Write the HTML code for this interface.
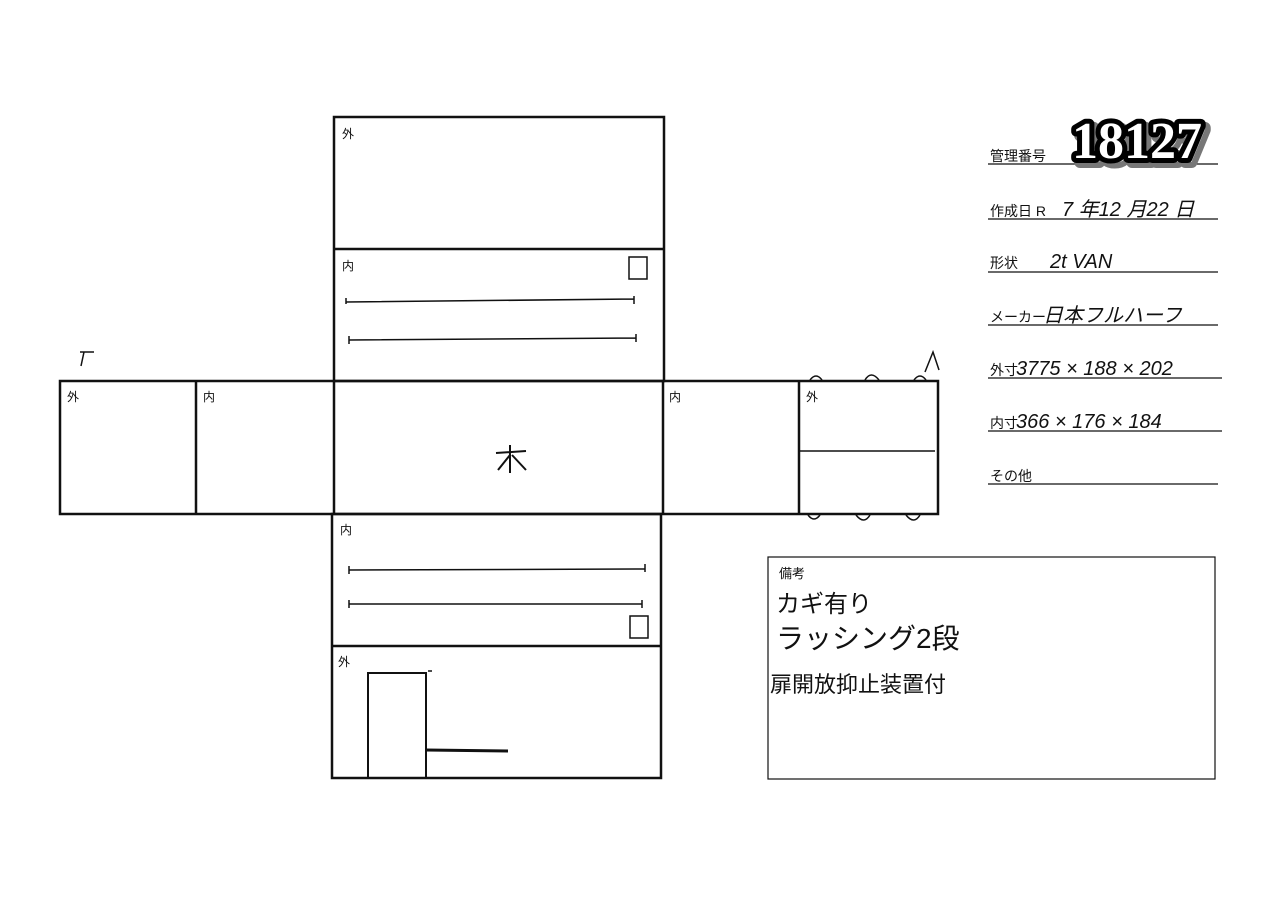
<!DOCTYPE html>
<html><head><meta charset="utf-8"><style>
html,body{margin:0;padding:0;background:#fff}
svg{display:block}
text{font-family:"Liberation Sans","Noto Sans CJK JP",sans-serif;fill:#111}
text.num{font-family:"Liberation Serif",serif;font-weight:bold;fill:#fff}
</style></head><body>
<svg width="1280" height="905" viewBox="0 0 1280 905" xmlns="http://www.w3.org/2000/svg">
<g fill="none" stroke="#111" stroke-width="2.5">
<rect x="334" y="117" width="330" height="264"/>
<line x1="334" y1="249" x2="664" y2="249"/>
<rect x="60" y="381" width="878" height="133"/>
<line x1="196" y1="381" x2="196" y2="514"/>
<line x1="334" y1="381" x2="334" y2="514"/>
<line x1="663" y1="381" x2="663" y2="514"/>
<line x1="799" y1="381" x2="799" y2="514"/>
<rect x="332" y="514" width="329" height="264"/>
<line x1="332" y1="646" x2="661" y2="646"/>
<rect x="368" y="673" width="58" height="105" stroke-width="2"/>
<line x1="426" y1="750" x2="508" y2="751" stroke-width="3"/>
<line x1="428" y1="671" x2="432" y2="671" stroke-width="1.5"/>
</g>
<g fill="none" stroke="#111" stroke-width="1.5">
<line x1="799" y1="451" x2="935" y2="451"/>
<path d="M346 302 L634 299 M346 298 v6 M634 296 v8"/>
<path d="M349 340 L636 338 M349 336 v8 M636 334 v8"/>
<path d="M349 570 L645 569 M349 566 v8 M645 564 v8"/>
<path d="M349 604 L642 604 M349 600 v8 M642 600 v8"/>
<rect x="629" y="257" width="18" height="22"/>
<rect x="630" y="616" width="18" height="22"/>
<path d="M810 380 q6 -8 12 0 M865 380 q6 -10 14 0 M914 380 q6 -8 12 0"/>
<path d="M808 515 q6 8 12 0 M856 515 q8 10 14 0 M906 515 q8 10 14 0"/>
<path d="M925 372 l8 -20 l6 18"/>
<path d="M80 352 h14 M84 352 l-3 14"/>
<path d="M496 453 l30 -2 M510 445 v28 M510 455 l-12 15 M512 455 l14 15" stroke-width="2"/>
<rect x="768" y="557" width="447" height="222" stroke-width="1.2"/>
<g stroke-width="1.3">
<line x1="988" y1="164" x2="1218" y2="164"/>
<line x1="988" y1="219" x2="1218" y2="219"/>
<line x1="988" y1="272" x2="1218" y2="272"/>
<line x1="988" y1="325" x2="1218" y2="325"/>
<line x1="988" y1="378" x2="1222" y2="378"/>
<line x1="988" y1="431" x2="1222" y2="431"/>
<line x1="988" y1="484" x2="1218" y2="484"/>
</g>
</g>
<g font-size="12">
<text x="342" y="138">外</text><text x="342" y="270">内</text>
<text x="67" y="401">外</text><text x="203" y="401">内</text>
<text x="669" y="401">内</text><text x="806" y="401">外</text>
<text x="340" y="534">内</text><text x="338" y="666">外</text>
<text x="779" y="578" font-size="13">備考</text>
</g>
<g font-size="14">
<text x="990" y="161">管理番号</text>
<text x="990" y="216">作成日 R</text>
<text x="990" y="268">形状</text>
<text x="990" y="322">メーカー</text>
<text x="990" y="375">外寸</text>
<text x="990" y="428">内寸</text>
<text x="990" y="481">その他</text>
</g>
<g font-size="20" font-style="italic">
<text x="1062" y="216">7 年12 月22 日</text>
<text x="1050" y="268">2t  VAN</text>
<text x="1043" y="322">日本フルハーフ</text>
<text x="1016" y="375">3775 × 188 × 202</text>
<text x="1016" y="428">366 × 176 × 184</text>
</g>
<text class="num" x="1076" y="162" font-size="52" stroke="#777" stroke-width="12" stroke-linejoin="round" paint-order="stroke">18127</text>
<text class="num" x="1072" y="158" font-size="52" stroke="#000" stroke-width="10" stroke-linejoin="round" paint-order="stroke">18127</text>
<g font-size="24">
<text x="776" y="612">カギ有り</text>
<text x="776" y="648" font-size="28">ラッシング2段</text>
<text x="770" y="692" font-size="22">扉開放抑止装置付</text>
</g>
</svg>
</body></html>
